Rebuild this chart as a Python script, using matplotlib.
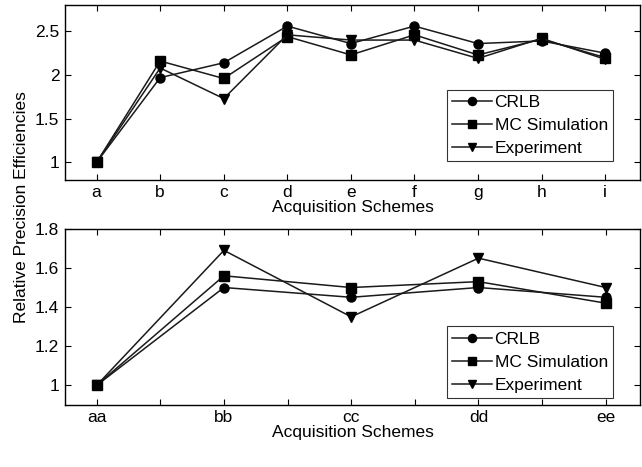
import numpy as np
import matplotlib
matplotlib.use('Agg')
import matplotlib.pyplot as plt

plt.rcParams['font.family'] = ['Liberation Sans', 'DejaVu Sans']

series_names = ['CRLB', 'MC Simulation', 'Experiment']
markers = ['o', 's', 'v']

top_labels = ['a', 'b', 'c', 'd', 'e', 'f', 'g', 'h', 'i']
top_crlb = [1.0, 1.97, 2.14, 2.56, 2.36, 2.56, 2.36, 2.39, 2.25]
top_mc = [1.0, 2.16, 1.96, 2.44, 2.23, 2.46, 2.23, 2.41, 2.20]
top_exp = [1.0, 2.08, 1.73, 2.46, 2.40, 2.40, 2.19, 2.42, 2.18]

bot_labels = ['aa', 'bb', 'cc', 'dd', 'ee']
bot_crlb = [1.0, 1.50, 1.45, 1.50, 1.45]
bot_mc = [1.0, 1.56, 1.50, 1.53, 1.42]
bot_exp = [1.0, 1.69, 1.35, 1.65, 1.50]

FS = 12.5

fig = plt.figure(figsize=(6.42, 4.67), dpi=100)
ax1 = fig.add_axes([0.101, 0.615, 0.896, 0.374])
ax2 = fig.add_axes([0.101, 0.133, 0.896, 0.377])


def draw(ax, labels, data, ylim, yticks, xticks, legend_anchor):
    x = np.arange(1, len(labels) + 1)
    for vals, name, m in zip(data, series_names, markers):
        ax.plot(x, vals, color='#1a1a1a', lw=1.1, marker=m, ms=6.5,
                mfc='black', mec='black', label=name)
    ax.set_ylim(*ylim)
    ax.set_yticks(yticks)
    ax.set_yticklabels([('%g' % t) for t in yticks])
    ax.set_xticks(xticks)
    ax.set_xticklabels([labels[int(t) - 1] if float(t).is_integer() else ''
                        for t in xticks])
    ax.tick_params(direction='in', top=True, right=True, length=4,
                   width=0.8, labelsize=FS, pad=4)
    ax.set_xlabel('Acquisition Schemes', fontsize=FS, labelpad=0)
    for s in ax.spines.values():
        s.set_linewidth(1.0)
    leg = ax.legend(loc='lower right', bbox_to_anchor=legend_anchor,
                    fontsize=FS, frameon=True, fancybox=False,
                    edgecolor='black', handlelength=2.3, handletextpad=0.15,
                    borderpad=0.3, labelspacing=0.45, borderaxespad=0,
                    markerscale=0.9)
    leg.get_frame().set_linewidth(0.8)


draw(ax1, top_labels, [top_crlb, top_mc, top_exp], (0.8, 2.8),
     [1, 1.5, 2, 2.5], np.arange(1, 10), (0.953, 0.105))
ax1.set_xlim(0.5, 9.55)

draw(ax2, bot_labels, [bot_crlb, bot_mc, bot_exp], (0.9, 1.8),
     [1, 1.2, 1.4, 1.6, 1.8], np.arange(1, 5.01, 0.5), (0.953, 0.04))
ax2.set_xlim(0.75, 5.27)

fig.text(0.034, 0.557, 'Relative Precision Efficiencies', rotation=90,
         va='center', ha='center', fontsize=FS)

fig.savefig('out.png', dpi=100)
